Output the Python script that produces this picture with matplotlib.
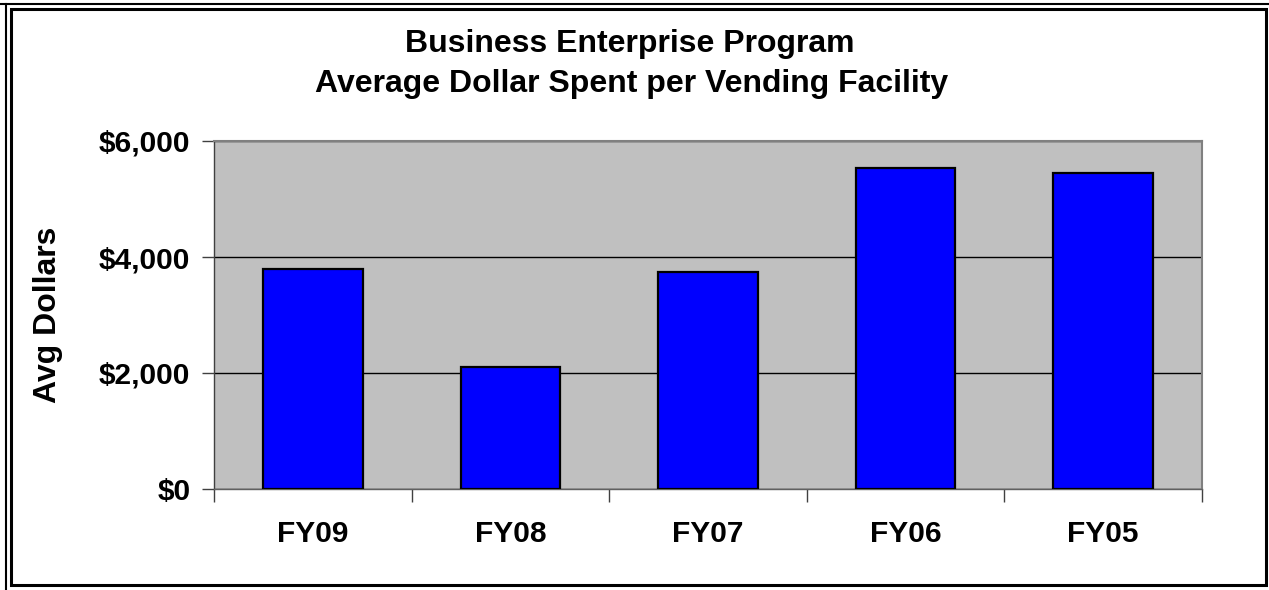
import numpy as np
from matplotlib import pyplot as plt
from matplotlib.lines import Line2D
from matplotlib.patches import Rectangle

years = ['FY09', 'FY08', 'FY07', 'FY06', 'FY05']
avg_dollars = [3800, 2100, 3740, 5530, 5440]
y_ticks = [0, 2000, 4000, 6000]
y_labels = ['$0', '$2,000', '$4,000', '$6,000']

plt.rcParams['font.family'] = ['Liberation Sans', 'DejaVu Sans']
plt.rcParams['font.weight'] = 'bold'

fig = plt.figure(figsize=(12.69, 5.90), dpi=100)
W, H = 1269, 590

# double frame around the chart
fig.add_artist(Line2D([0, 1], [1 - 3.5 / H, 1 - 3.5 / H], color='black', lw=1.5, transform=fig.transFigure))
fig.add_artist(Line2D([5.5 / W, 5.5 / W], [0, 1 - 3.5 / H], color='black', lw=1.5, transform=fig.transFigure))
fig.add_artist(Rectangle((11 / W, 1 - 585 / H), (1266 - 11) / W, (585 - 9) / H,
                         fill=False, edgecolor='black', lw=2.2, transform=fig.transFigure))

ax = fig.add_axes([214 / W, 1 - 489 / H, (1202 - 214) / W, (489 - 141) / H])
ax.set_facecolor('#c0c0c0')

x = np.arange(len(years))
ax.bar(x, avg_dollars, width=0.505, color='#0000ff', edgecolor='black', linewidth=1.6, zorder=3)

ax.set_xlim(-0.5, len(years) - 0.5)
ax.set_ylim(0, 6000)
ax.set_yticks(y_ticks)
ax.set_yticklabels(y_labels, fontsize=21.5, fontweight='bold')
ax.yaxis.grid(True, color='black', linewidth=1.0, zorder=1)
ax.set_axisbelow(True)

# category ticks on boundaries, labels centred
ax.set_xticks(np.arange(len(years) + 1) - 0.5)
ax.set_xticklabels([])
ax.set_xticks(x, minor=True)
ax.set_xticklabels(years, minor=True, fontsize=21.5, fontweight='bold')
ax.tick_params(axis='x', which='minor', length=0, pad=22)
ax.tick_params(axis='x', which='major', length=9, width=1, color='#404040', direction='out')
ax.tick_params(axis='y', length=9, width=1, color='#404040', direction='out', pad=8)

for side in ['top', 'right']:
    ax.spines[side].set_color('#808080')
    ax.spines[side].set_linewidth(1.5)
ax.spines['left'].set_color('#404040')
ax.spines['bottom'].set_color('#606060')
ax.spines['left'].set_linewidth(1.0)
ax.spines['bottom'].set_linewidth(1.0)

ax.set_ylabel('Avg Dollars', fontsize=23, fontweight='bold')
ax.yaxis.set_label_coords(-(214 - 63) / (1202 - 214), 0.5)

fig.text(630 / W, 1 - 44 / H, 'Business Enterprise Program', ha='center', va='center',
         fontsize=23, fontweight='bold')
fig.text(632 / W, 1 - 84 / H, 'Average Dollar Spent per Vending Facility', ha='center', va='center',
         fontsize=23, fontweight='bold')

fig.savefig('out.png', dpi=100)
